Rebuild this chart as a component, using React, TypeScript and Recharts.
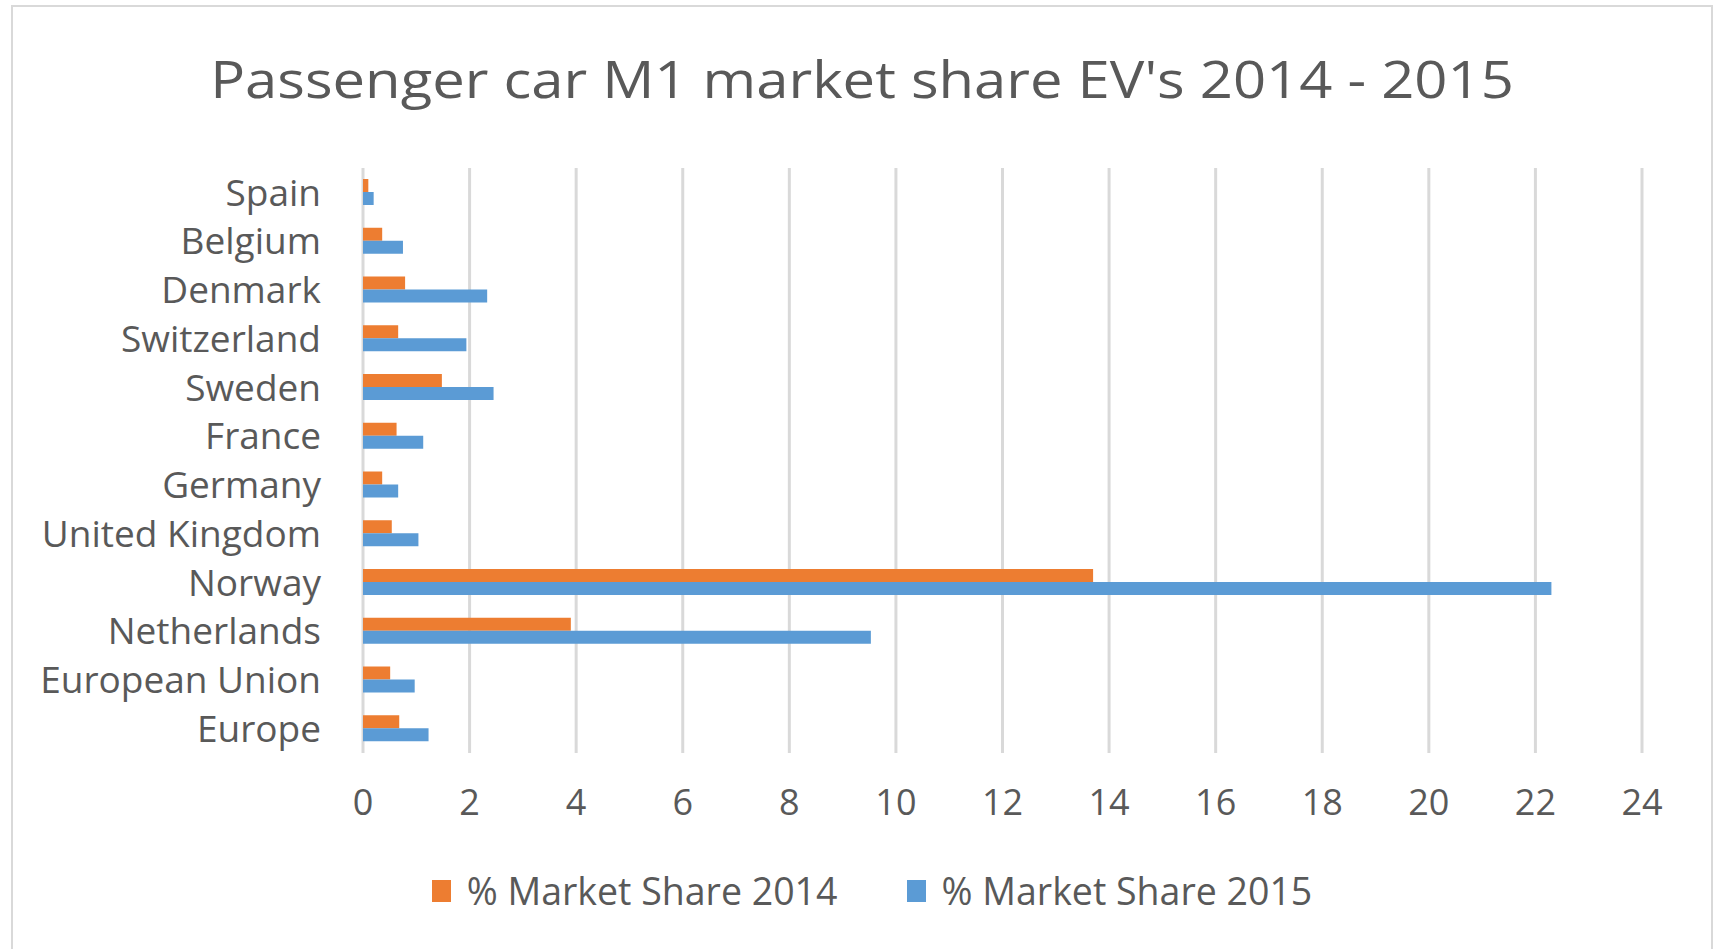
import React from 'react';
import { BarChart, Bar, XAxis, YAxis, CartesianGrid } from 'recharts';

const countries = [
  'Spain',
  'Belgium',
  'Denmark',
  'Switzerland',
  'Sweden',
  'France',
  'Germany',
  'United Kingdom',
  'Norway',
  'Netherlands',
  'European Union',
  'Europe',
];

const share2014 = [0.1, 0.36, 0.79, 0.66, 1.48, 0.63, 0.36, 0.54, 13.7, 3.9, 0.51, 0.68];
const share2015 = [0.2, 0.75, 2.33, 1.94, 2.45, 1.13, 0.66, 1.04, 22.3, 9.53, 0.97, 1.23];

const xTicks = [0, 2, 4, 6, 8, 10, 12, 14, 16, 18, 20, 22, 24];

const series = [
  { key: 'y2014', name: '% Market Share 2014', color: '#ED7D31' },
  { key: 'y2015', name: '% Market Share 2015', color: '#5B9BD5' },
];

const data = countries.map((country, i) => ({
  country,
  y2014: share2014[i],
  y2015: share2015[i],
}));

const FONT = '"Open Sans", sans-serif';
const TEXT = '#595959';

export default function App() {
  return (
    <div
      style={{
        position: 'absolute',
        left: 11,
        top: 5,
        width: 1702,
        height: 944,
        boxSizing: 'border-box',
        border: '2px solid #d9d9d9',
        borderBottom: 'none',
        background: '#fff',
        fontFamily: FONT,
        overflow: 'hidden',
      }}
    >
      {/* title, stretched a bit to match the wide original lettering */}
      <div
        style={{
          position: 'absolute',
          top: 45,
          left: 0,
          width: '100%',
          textAlign: 'center',
          fontSize: 52,
          lineHeight: '52px',
          color: TEXT,
          transform: 'scaleX(1.115)',
          transformOrigin: 'center',
        }}
      >
        Passenger car M1 market share EV's 2014 - 2015
      </div>

      <BarChart
        width={1698}
        height={942}
        data={data}
        layout="vertical"
        barSize={13}
        barGap={0}
        margin={{ top: 161, right: 69, bottom: 136, left: 10 }}
        style={{ position: 'absolute', left: 0, top: 0 }}
      >
        <CartesianGrid horizontal={false} stroke="#d9d9d9" strokeWidth={3} />
        <XAxis
          type="number"
          domain={[0, 24]}
          ticks={xTicks}
          interval={0}
          axisLine={false}
          tickLine={false}
          tickSize={0}
          tickMargin={36}
          height={60}
          tick={{ fontSize: 36, fill: TEXT, fontFamily: FONT }}
        />
        <YAxis
          type="category"
          dataKey="country"
          width={340}
          interval={0}
          axisLine={false}
          tickLine={false}
          tickSize={0}
          tickMargin={42}
          tick={{ fontSize: 37, fill: TEXT, fontFamily: FONT }}
        />
        {series.map((s) => (
          <Bar key={s.key} dataKey={s.key} name={s.name} fill={s.color} isAnimationActive={false} />
        ))}
      </BarChart>

      <div
        style={{
          position: 'absolute',
          top: 866,
          left: 0,
          width: '100%',
          boxSizing: 'border-box',
          paddingLeft: 20,
          display: 'flex',
          justifyContent: 'center',
          gap: 69,
          fontSize: 37.5,
          lineHeight: '36px',
          color: TEXT,
        }}
      >
        {series.map((s) => (
          <div key={s.key} style={{ display: 'flex', alignItems: 'center' }}>
            <span
              style={{
                display: 'inline-block',
                width: 19,
                height: 22,
                background: s.color,
                marginRight: 16,
              }}
            />
            <span>{s.name}</span>
          </div>
        ))}
      </div>
    </div>
  );
}
